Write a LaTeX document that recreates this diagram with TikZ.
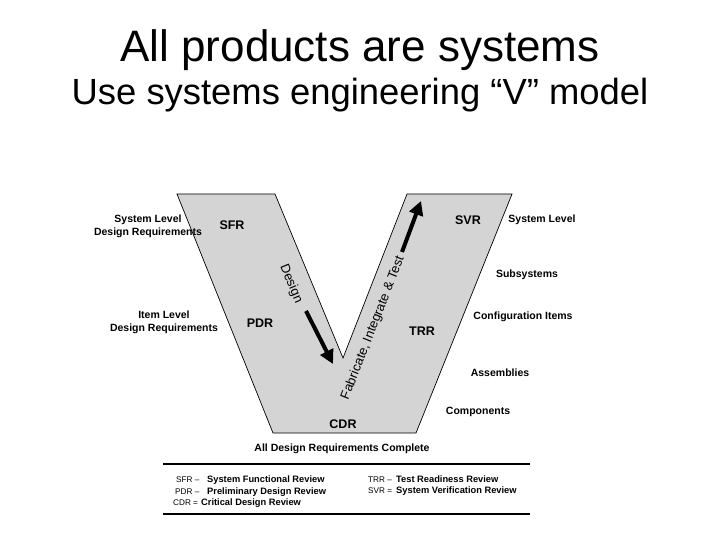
\documentclass[tikz,border=0pt]{standalone}
\usepackage{fontspec}
\setmainfont{Liberation Sans}
\usetikzlibrary{arrows.meta}
\definecolor{vgray}{RGB}{212,212,212}
\begin{document}
\begin{tikzpicture}[x=1pt,y=-1pt]
    \tikzstyle{title}=[inner sep=0pt, anchor=base, font=\fontsize{44}{50}\selectfont]
    \tikzstyle{subtitle}=[inner sep=0pt, anchor=base, font=\fontsize{36.4}{42}\selectfont]
    \tikzstyle{review}=[inner sep=0pt, font=\fontsize{12.5}{14}\selectfont\bfseries]
    \tikzstyle{level}=[inner sep=0pt, align=center, font=\fontsize{10.5}{13}\selectfont\bfseries]
    \tikzstyle{phase}=[inner sep=0pt, font=\fontsize{13}{15}\selectfont]
    \tikzstyle{key}=[inner sep=0pt, anchor=base west, font=\fontsize{9.3}{11}\selectfont\bfseries]
    \tikzstyle{abbr}=[inner sep=0pt, anchor=base west, font=\fontsize{8.2}{10}\selectfont]
    \tikzstyle{flow}=[line width=4pt, -{Triangle[length=14pt,width=14pt]}]
    \tikzstyle{vee}=[draw=black, line width=0.7pt, fill=vgray]
    \tikzstyle{rule}=[line width=1.1pt]

    \useasboundingbox (0,0) rectangle (720,540);

    \node[title] (t1) at (360,62) {All products are systems};
    \node[subtitle] (t2) at (360,105) {Use systems engineering “V” model};

    % the V
    \path[vee] (177,194) -- (275,194) -- (343,358) -- (407,194) -- (512,194)
        -- (416,433) -- (273,433) -- cycle;

    \node[review] (sfr) at (232,225) {SFR};
    \node[review] (pdr) at (260,323) {PDR};
    \node[review] (cdr) at (343,424) {CDR};
    \node[review] (trr) at (422,331) {TRR};
    \node[review] (svr) at (468,220) {SVR};

    \node[phase, rotate=-67] (design) at (291,284) {Design};
    \node[phase, rotate=68.5] (fit) at (373,328) {Fabricate, Integrate \& Test};

    \coordinate (dtail) at (306,311);
    \coordinate (dtip) at (333,364);
    \coordinate (itail) at (402,252);
    \coordinate (itip) at (421,201);
    \path (dtail) edge[flow] (dtip);
    \path (itail) edge[flow] (itip);

    % levels
    \node[level] (sysreq) at (148,226.5) {System Level\\Design Requirements};
    \node[level] (itemreq) at (164,322.5) {Item Level\\Design Requirements};
    \node[level] (syslvl) at (542,220) {System Level};
    \node[level] (subsys) at (527,275) {Subsystems};
    \node[level] (config) at (523,317) {Configuration Items};
    \node[level] (assy) at (500,373) {Assemblies};
    \node[level] (comp) at (478,412) {Components};
    \node[level] (allreq) at (342,449) {All Design Requirements Complete};

    % key
    \coordinate (k1) at (163,464);
    \coordinate (k2) at (530,464);
    \coordinate (k3) at (163,514);
    \coordinate (k4) at (530,514);
    \path (k1) edge[rule] (k2);
    \path (k3) edge[rule] (k4);

    \node[abbr] (ksfr) at (176,482.5) {SFR –};
    \node[key] (ksfrt) at (207,482.5) {System Functional Review};
    \node[abbr] (kpdr) at (175,494.5) {PDR –};
    \node[key] (kpdrt) at (207,494.5) {Preliminary Design Review};
    \node[abbr] (kcdr) at (173,505.5) {CDR =};
    \node[key] (kcdrt) at (201,505.5) {Critical Design Review};
    \node[abbr] (ktrr) at (368,482.5) {TRR –};
    \node[key] (ktrrt) at (396,482.5) {Test Readiness Review};
    \node[abbr] (ksvr) at (368,493) {SVR =};
    \node[key] (ksvrt) at (396,493) {System Verification Review};
\end{tikzpicture}
\end{document}
